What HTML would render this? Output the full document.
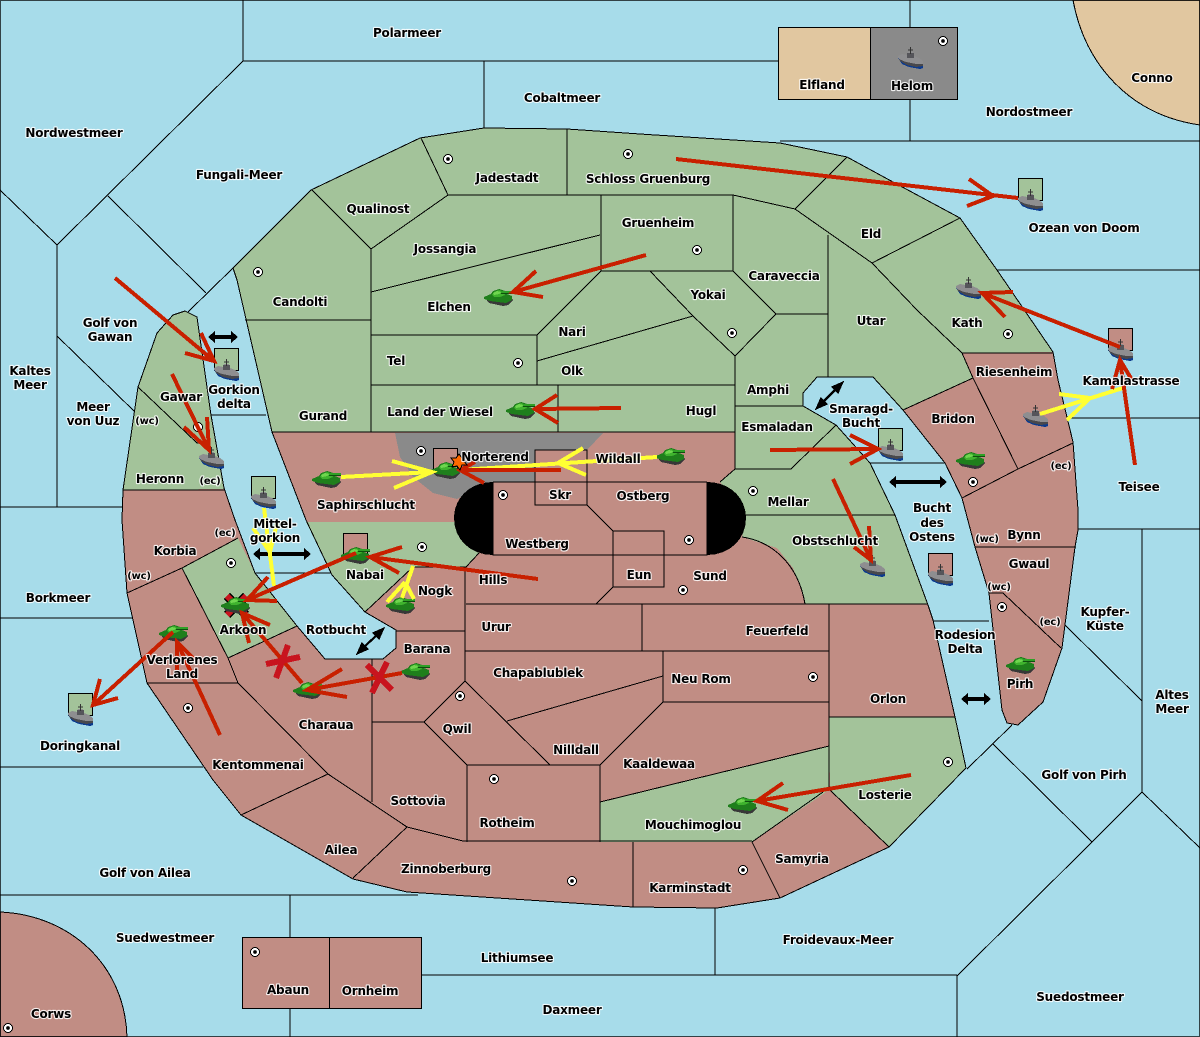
<!DOCTYPE html>
<html><head><meta charset="utf-8"><title>Map</title>
<style>
html,body{margin:0;padding:0;background:#a7dcea}
svg{display:block;shape-rendering:crispEdges}
.m text{font-family:"DejaVu Sans","Liberation Sans",sans-serif;font-weight:bold;font-size:12px;letter-spacing:-.2px;text-anchor:middle;fill:#000;stroke:#fff;stroke-opacity:.85;stroke-width:2.2px;stroke-linejoin:round;paint-order:stroke}
</style></head><body>
<svg class="m" xmlns="http://www.w3.org/2000/svg" width="1200" height="1037" viewBox="0 0 1200 1037">
<defs>
<g id="ship">
<polygon points="0,11 4,17 11,20 22,22 25,21 25,16" fill="#0b3a8e"/>
<polygon points="0,9 4,7 9,8 10,5 15,5 16,9 21,11 25,14 25,18 19,19 9,17 3,14 0,11" fill="#8e8e90"/>
<polygon points="1,12 8,15 18,17 25,17 25,19 18,20 9,18 2,14" fill="#48484c"/>
<rect x="9" y="6" width="7" height="5" fill="#55555a"/>
<path d="M12.500,0V7M10,3H15" stroke="#333" stroke-width="1.300" fill="none"/>
</g>
<g id="tank">
<polygon points="1,9 5,14 19,17 24,16 29,11 27,9" fill="#383838"/>
<polygon points="0,8 7,5 9,2 15,0 21,2 23,5 28,7 28,11 22,14 6,12 0,10" fill="#1f7f1c"/>
<polygon points="8,6 10,3 15,1 20,3 21,6 16,8 10,8" fill="#3fb32e"/>
<polygon points="9,4 13,2 17,3 15,5 10,6" fill="#6fd64f"/>
<rect x="17" y="2" width="12" height="2" fill="#2fa026"/>
<rect x="17" y="4" width="12" height="1" fill="#0e4f0e"/>
</g>
<g id="dot"><circle r="4.500" fill="#fff" stroke="#000" stroke-width="1"/><circle r="1.800" fill="#000"/></g>
</defs>

<rect width="1200" height="1037" fill="#a7dcea"/>

<!-- corners -->
<g stroke="#000" stroke-width="1">
<path d="M1073,0C1085,65 1130,115 1200,125L1200,0Z" fill="#e1c7a0"/>
<path d="M0,912C70,915 125,965 127,1037L0,1037Z" fill="#c18d84"/>
</g>

<!-- sea lines -->
<g stroke="#000" stroke-width="1" fill="none">
<path d="M243,0V61L57,245L0,190M57,245V507M0,507H122M57,336L135,412M108,196L206,293M188,312L233,268"/>
<path d="M243,61H778M484,61V128M910,0V27M910,100V141M780,141H1200M997,270H1200M1070,418H1200M1078,529H1200"/>
<path d="M1142,529V792L1092,842L957,976V1037M1142,792L1200,848M1065,625L1142,701M993,744L1092,842M1012,725L967,769"/>
<path d="M0,618H132M0,767H203M0,895H418M290,895V937M290,1009V1037M421,975H957M715,908V975"/>
<path d="M211,415H266M255,573H332M870,463H945M933,621H989"/>
</g>

<!-- land -->
<polygon fill="#c18d84" stroke="#000" stroke-width="1" points="233,268 311,190 420,138 484,128 567,129 640,134 780,143 847,157 893,182 960,218 997,270 1053,352 1058,380 1073,442 1078,510 1078,530 1075,547 1062,648 1043,702 1018,725 1007,723 1002,710 989,593 975,547 962,498 945,463 903,410 873,377 817,377 803,393 803,406 836,425 870,463 895,515 928,605 933,620 955,717 966,768 889,847 780,898 717,908 633,907 407,892 353,879 241,815 213,780 147,683 127,593 122,520 123,490 138,387 157,333 173,315 185,311 197,317 211,415 224,488 235,520 255,573 297,626 325,659 383,659 396,648 396,630 365,612 332,575 306,520 272,432 237,280"/>
<g fill="#a3c39a">
<polygon points="272,432 237,280 233,268 311,190 420,138 484,128 567,129 640,134 780,143 847,157 893,182 960,218 997,270 1053,352 962,353 973,378 903,410 873,377 817,377 803,393 803,406 836,425 870,463 895,515 928,604 805,604 800,585 793,568 777,548 742,537 746,518 720,482 735,469 735,432"/>
<polygon points="123,490 138,387 157,333 173,315 185,311 197,317 211,415 224,489"/>
<polygon points="182,568 238,538 255,573 297,626 228,658"/>
<polygon points="306,522 456,522 479,553 466,567 413,567 365,612 332,575"/>
<polygon points="600,802 829,746 829,790 752,842 600,842"/>
<polygon points="829,717 955,717 966,768 889,847 830,790"/>
</g>
<polygon fill="#8a8a8a" points="395,433 603,433 587,450 535,450 535,482 490,482 457,499 433,493 413,477 400,457"/>
<!-- black ends -->
<path d="M493,482C470,482 454,498 454,518C454,539 470,555 493,555Z" fill="#000"/>
<path d="M707,482C730,482 746,498 746,518C746,539 730,555 707,555Z" fill="#000"/>

<!-- outline over fills -->
<polyline fill="none" stroke="#000" stroke-width="1" points="272,432 237,280 233,268 311,190 420,138 484,128 567,129 640,134 780,143 847,157 893,182 960,218 997,270 1053,352 1058,380 1073,442 1078,510 1078,530 1075,547 1062,648 1043,702 1018,725 1007,723 1002,710 989,593 975,547 962,498 945,463 903,410 873,377 817,377 803,393 803,406 836,425 870,463 895,515 928,605 933,620 955,717 966,768 889,847 780,898"/>
<polyline fill="none" stroke="#000" stroke-width="1" points="123,490 138,387 157,333 173,315 185,311 197,317 211,415 224,488 235,520 255,573 297,626 325,659 383,659 396,648 396,630 365,612 332,575 306,520 272,432"/>

<!-- internal borders -->
<g stroke="#000" stroke-width="1" fill="none">
<path d="M421,138L448,195L371,249L312,190M448,195H733M567,129V195M371,249V432M371,292L600,235M601,195V271H733V195L795,209L847,157M795,209L872,263L960,218M872,263L917,310L962,353M828,235V377M650,271L693,316L735,356L776,314L733,271M776,314H828M537,361L693,316M601,271L537,335H371M537,335V385M371,385H735M735,356V469M735,406H803M272,432H735M558,385V432M245,320H371"/>
<path d="M836,425L791,469H735M746,515H895M735,469L720,482M742,537C770,541 798,562 805,604"/>
<path d="M466,604H928M642,604V651M465,651H829M465,567V681M479,553L466,567H413L365,612M396,631H465"/>
<path d="M493,482H707M493,482V555H707V482M535,450H587V505H535ZM587,505L613,531M613,531H664V587H613ZM613,587L596,604"/>
<path d="M372,659V802M372,722H424M465,681L424,722L467,765H600L550,765L465,681M507,721L663,676M663,651V702H829M663,702L600,765M467,765V842M600,765V842M600,802L829,746M463,841H752M407,827L463,841M407,827L353,878M238,683L328,774L407,827M328,774L241,815M829,604V790M829,717H955M752,842L823,792M830,790L889,847M752,842L780,898M633,842V907"/>
<path d="M238,538L182,568L127,593M182,568L228,658L238,683M147,683H238M228,658L297,626M123,490H224M138,387L197,443H203"/>
<path d="M973,378L1018,469M903,410L973,378M962,353H1053M962,353L973,378M962,498L1018,469L1073,443M975,547H1076M989,593H1003L1061,648"/>
</g>

<!-- boxes -->
<g stroke="#000" stroke-width="1">
<rect x="778.500" y="27.500" width="92" height="72" fill="#e1c7a0"/>
<rect x="870.500" y="27.500" width="87" height="72" fill="#8a8a8a"/>
<rect x="242.500" y="937.500" width="87" height="71" fill="#c18d84"/>
<rect x="329.500" y="937.500" width="92" height="71" fill="#c18d84"/>
<rect x="214.500" y="348.500" width="24" height="22" fill="#a3c39a"/>
<rect x="251.500" y="476.500" width="24" height="22" fill="#a3c39a"/>
<rect x="343.500" y="533.500" width="24" height="22" fill="#c18d84"/>
<rect x="433.500" y="448.500" width="24" height="22" fill="#c18d84"/>
<rect x="878.500" y="428.500" width="24" height="22" fill="#a3c39a"/>
<rect x="928.500" y="553.500" width="24" height="22" fill="#c18d84"/>
<rect x="1018.500" y="178.500" width="24" height="22" fill="#a3c39a"/>
<rect x="1108.500" y="328.500" width="24" height="22" fill="#c18d84"/>
<rect x="68.500" y="693.500" width="24" height="22" fill="#a3c39a"/>
</g>

<!-- dots -->
<use href="#dot" x="943" y="41"/><use href="#dot" x="448" y="159"/><use href="#dot" x="628" y="154"/><use href="#dot" x="258" y="272"/><use href="#dot" x="697" y="250"/><use href="#dot" x="518" y="363"/><use href="#dot" x="732" y="333"/><use href="#dot" x="1008" y="334"/><use href="#dot" x="421" y="451"/><use href="#dot" x="503" y="495"/><use href="#dot" x="753" y="491"/><use href="#dot" x="973" y="482"/><use href="#dot" x="689" y="540"/><use href="#dot" x="422" y="547"/><use href="#dot" x="231" y="563"/><use href="#dot" x="198" y="427"/><use href="#dot" x="683" y="590"/><use href="#dot" x="1002" y="607"/><use href="#dot" x="460" y="696"/><use href="#dot" x="813" y="677"/><use href="#dot" x="188" y="708"/><use href="#dot" x="494" y="779"/><use href="#dot" x="948" y="762"/><use href="#dot" x="743" y="870"/><use href="#dot" x="572" y="881"/><use href="#dot" x="255" y="952"/><use href="#dot" x="8" y="1028"/>

<!-- black double arrows -->
<g fill="#000" stroke="none">
<path d="M208,337L215,331V335H231V331L238,337L231,343V339H215V343Z"/>
<path d="M253,554L260,548V552H304V548L311,554L304,560V556H260V560Z"/>
<path d="M889,482L896,476V480H940V476L947,482L940,488V484H896V488Z"/>
<path d="M961,699L968,693V697H984V693L991,699L984,705V701H968V705Z"/>
</g>
<g stroke="#000" stroke-width="2.200" fill="#000">
<path d="M361,650L380,632"/><path d="M358,653L362,644L367,649ZM383,629L379,638L374,633Z"/>
<path d="M820,405L839,386"/><path d="M817,408L821,399L826,404ZM842,383L838,392L833,387Z"/>
</g>

<!-- failed marker -->
<path d="M227,596L246,615M246,596L227,615" stroke="#000" stroke-width="9"/>
<path d="M227,596L246,615M246,596L227,615" stroke="#c8141e" stroke-width="6"/>

<!-- units -->
<use href="#ship" x="214" y="359"/><use href="#ship" x="199" y="447"/><use href="#ship" x="251" y="487"/><use href="#ship" x="898" y="47"/><use href="#ship" x="1018" y="189"/><use href="#ship" x="956" y="277"/><use href="#ship" x="1023" y="405"/><use href="#ship" x="1108" y="339"/><use href="#ship" x="878" y="439"/><use href="#ship" x="860" y="555"/><use href="#ship" x="928" y="564"/><use href="#ship" x="68" y="704"/>
<use href="#tank" x="484" y="289"/><use href="#tank" x="506" y="402"/><use href="#tank" x="312" y="471"/><use href="#tank" x="431" y="462"/><use href="#tank" x="656" y="448"/><use href="#tank" x="341" y="547"/><use href="#tank" x="221" y="597"/><use href="#tank" x="159" y="625"/><use href="#tank" x="293" y="682"/><use href="#tank" x="401" y="663"/><use href="#tank" x="386" y="597"/><use href="#tank" x="956" y="452"/><use href="#tank" x="1006" y="657"/><use href="#tank" x="728" y="797"/>

<!-- yellow -->
<g stroke="#ffff33" stroke-width="4" fill="none">
<path d="M341,477L432,472M392,461L432,472L394,488"/>
<path d="M657,457L461,470M583,448L558,463L586,475"/>
<path d="M264,508L274,586M253,528L270,552L277,523"/>
<path d="M413,566L402,598M405,582L387,602M405,582L414,599"/>
<path d="M1040,414L1123,388M1059,394L1090,398L1067,420"/>
</g>

<!-- red -->
<g stroke="#c82000" stroke-width="4" fill="none">
<path d="M676,159L1018,198M969,179L993,196L967,206"/>
<path d="M646,255L513,292M536,271L513,292L543,297"/>
<path d="M621,408L535,409M557,395L535,409L558,423"/>
<path d="M115,278L214,361M201,333L214,361L185,353"/>
<path d="M172,374L209,450M207,417L209,450L184,427"/>
<path d="M1120,347L982,293M1013,292L982,293L1005,317"/>
<path d="M1135,465L1120,360M1112,389L1120,360L1132,380"/>
<path d="M561,470L460,470M475,462L460,470L484,483"/>
<path d="M770,450L878,449M850,435L878,449L850,464"/>
<path d="M833,479L871,560M869,526L871,560L854,547"/>
<path d="M538,579L370,557M402,547L370,557L399,573"/>
<path d="M356,553L247,600M268,577L247,600L277,601"/>
<path d="M302,683L242,613M270,625L242,613L249,643"/>
<path d="M402,673L307,690M342,669L307,690L347,697"/>
<path d="M220,735L177,642M177,670L177,642L195,660"/>
<path d="M173,632L93,705M100,679L93,705L118,698"/>
<path d="M911,775L757,801M783,783L757,801L788,810"/>
</g>
<g stroke="#c8141e" stroke-width="6" fill="none">
<path d="M288,645L276,678M266,664L300,657"/>
<path d="M387,662L372,693M367,665L392,690"/>
</g>
<!-- explosion -->
<polygon points="459,454 462,458 466,456 464,461 467,465 462,465 460,470 457,466 452,467 454,462 451,458 456,458" fill="#ff6a00" stroke="#000" stroke-width="1"/>

<!-- labels -->
<g>
<text x="407" y="37">Polarmeer</text><text x="562" y="102">Cobaltmeer</text><text x="74" y="137">Nordwestmeer</text><text x="239" y="179">Fungali-Meer</text><text x="507" y="182">Jadestadt</text><text x="648" y="183">Schloss Gruenburg</text><text x="822" y="89">Elfland</text><text x="912" y="90">Helom</text><text x="1029" y="116">Nordostmeer</text><text x="1152" y="82">Conno</text><text x="378" y="213">Qualinost</text><text x="658" y="227">Gruenheim</text><text x="445" y="253">Jossangia</text><text x="871" y="238">Eld</text><text x="1084" y="232">Ozean von Doom</text><text x="784" y="280">Caraveccia</text><text x="708" y="299">Yokai</text><text x="300" y="306">Candolti</text><text x="449" y="311">Elchen</text><text x="871" y="325">Utar</text><text x="967" y="327">Kath</text><text x="110" y="327">Golf von</text><text x="110" y="341">Gawan</text><text x="572" y="336">Nari</text><text x="396" y="365">Tel</text><text x="572" y="375">Olk</text><text x="30" y="375">Kaltes</text><text x="30" y="389">Meer</text><text x="1014" y="376">Riesenheim</text><text x="1131" y="385">Kamalastrasse</text><text x="768" y="394">Amphi</text><text x="234" y="394">Gorkion</text><text x="234" y="408">delta</text><text x="181" y="401">Gawar</text><text x="93" y="411">Meer</text><text x="93" y="425">von Uuz</text><text x="440" y="416">Land der Wiesel</text><text x="701" y="415">Hugl</text><text x="861" y="413">Smaragd-</text><text x="861" y="427">Bucht</text><text x="323" y="420">Gurand</text><text x="953" y="423">Bridon</text><text x="147" y="424" style="font-size:10px">(wc)</text><text x="777" y="431">Esmaladan</text><text x="495" y="461">Norterend</text><text x="618" y="463">Wildall</text><text x="1061" y="469" style="font-size:10px">(ec)</text><text x="160" y="483">Heronn</text><text x="210" y="484" style="font-size:10px">(ec)</text><text x="1139" y="491">Teisee</text><text x="643" y="500">Ostberg</text><text x="560" y="499">Skr</text><text x="788" y="506">Mellar</text><text x="366" y="509">Saphirschlucht</text><text x="932" y="512">Bucht</text><text x="932" y="527">des</text><text x="932" y="541">Ostens</text><text x="275" y="528">Mittel-</text><text x="275" y="542">gorkion</text><text x="225" y="536" style="font-size:10px">(ec)</text><text x="1024" y="539">Bynn</text><text x="987" y="542" style="font-size:10px">(wc)</text><text x="835" y="545">Obstschlucht</text><text x="537" y="548">Westberg</text><text x="175" y="555">Korbia</text><text x="1029" y="568">Gwaul</text><text x="365" y="579">Nabai</text><text x="639" y="579">Eun</text><text x="139" y="579" style="font-size:10px">(wc)</text><text x="710" y="580">Sund</text><text x="493" y="584">Hills</text><text x="999" y="590" style="font-size:10px">(wc)</text><text x="435" y="595">Nogk</text><text x="58" y="602">Borkmeer</text><text x="1105" y="616">Kupfer-</text><text x="1105" y="630">Küste</text><text x="1050" y="625" style="font-size:10px">(ec)</text><text x="496" y="631">Urur</text><text x="336" y="634">Rotbucht</text><text x="243" y="634">Arkoon</text><text x="777" y="635">Feuerfeld</text><text x="965" y="639">Rodesion</text><text x="965" y="653">Delta</text><text x="427" y="653">Barana</text><text x="182" y="664">Verlorenes</text><text x="182" y="678">Land</text><text x="538" y="677">Chapablublek</text><text x="701" y="683">Neu Rom</text><text x="1020" y="688">Pirh</text><text x="1172" y="699">Altes</text><text x="1172" y="713">Meer</text><text x="888" y="703">Orlon</text><text x="326" y="729">Charaua</text><text x="457" y="733">Qwil</text><text x="80" y="750">Doringkanal</text><text x="576" y="754">Nilldall</text><text x="258" y="769">Kentommenai</text><text x="659" y="768">Kaaldewaa</text><text x="1084" y="779">Golf von Pirh</text><text x="885" y="799">Losterie</text><text x="418" y="805">Sottovia</text><text x="507" y="827">Rotheim</text><text x="693" y="829">Mouchimoglou</text><text x="341" y="854">Ailea</text><text x="802" y="863">Samyria</text><text x="446" y="873">Zinnoberburg</text><text x="145" y="877">Golf von Ailea</text><text x="690" y="892">Karminstadt</text><text x="165" y="942">Suedwestmeer</text><text x="838" y="944">Froidevaux-Meer</text><text x="517" y="962">Lithiumsee</text><text x="288" y="994">Abaun</text><text x="370" y="995">Ornheim</text><text x="1080" y="1001">Suedostmeer</text><text x="572" y="1014">Daxmeer</text><text x="51" y="1018">Corws</text>
</g>
<rect x=".5" y=".5" width="1199" height="1036" fill="none" stroke="#000" stroke-width="1" stroke-opacity=".7"/>
</svg>
</body></html>
